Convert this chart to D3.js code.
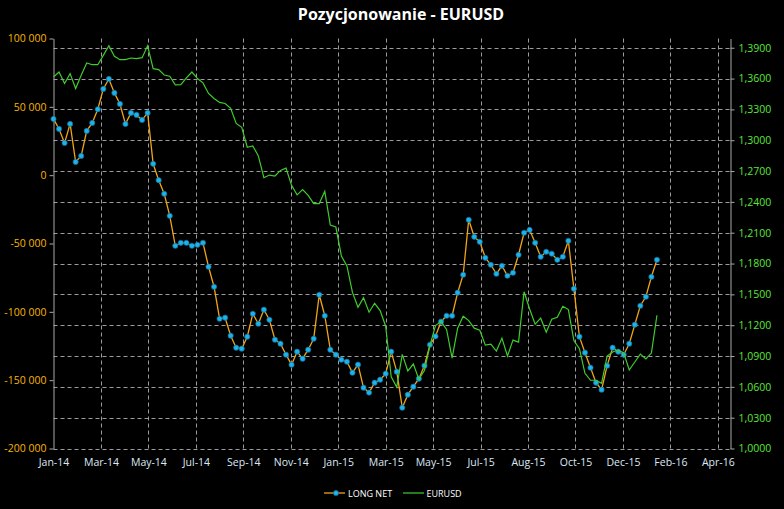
<!DOCTYPE html>
<html>
<head>
<meta charset="utf-8">
<script src="https://cdn.jsdelivr.net/npm/d3@7"></script>
<style>
  body { margin: 0; background: #000; }
  svg { display: block; }
  text { font-family: "Open Sans", "Noto Sans", sans-serif; }
</style>
</head>
<body>
<svg id="chart" width="784" height="509"></svg>
<script>
/* weekly COT report dates (Tuesdays) */
var weekDates = [
  "2014-01-07","2014-01-14","2014-01-21","2014-01-28","2014-02-04","2014-02-11","2014-02-18","2014-02-25",
  "2014-03-04","2014-03-11","2014-03-18","2014-03-25","2014-04-01","2014-04-08","2014-04-15","2014-04-22",
  "2014-04-29","2014-05-06","2014-05-13","2014-05-20","2014-05-27","2014-06-03","2014-06-10","2014-06-17",
  "2014-06-24","2014-07-01","2014-07-08","2014-07-15","2014-07-22","2014-07-29","2014-08-05","2014-08-12",
  "2014-08-19","2014-08-26","2014-09-02","2014-09-09","2014-09-16","2014-09-23","2014-09-30","2014-10-07",
  "2014-10-14","2014-10-21","2014-10-28","2014-11-04","2014-11-11","2014-11-18","2014-11-25","2014-12-02",
  "2014-12-09","2014-12-16","2014-12-23","2014-12-30","2015-01-06","2015-01-13","2015-01-20","2015-01-27",
  "2015-02-03","2015-02-10","2015-02-17","2015-02-24","2015-03-03","2015-03-10","2015-03-17","2015-03-24",
  "2015-03-31","2015-04-07","2015-04-14","2015-04-21","2015-04-28","2015-05-05","2015-05-12","2015-05-19",
  "2015-05-26","2015-06-02","2015-06-09","2015-06-16","2015-06-23","2015-06-30","2015-07-07","2015-07-14",
  "2015-07-21","2015-07-28","2015-08-04","2015-08-11","2015-08-18","2015-08-25","2015-09-01","2015-09-08",
  "2015-09-15","2015-09-22","2015-09-29","2015-10-06","2015-10-13","2015-10-20","2015-10-27","2015-11-03",
  "2015-11-10","2015-11-17","2015-11-24","2015-12-01","2015-12-08","2015-12-15","2015-12-22","2015-12-29",
  "2016-01-05","2016-01-12","2016-01-19","2016-01-26","2016-02-02","2016-02-09"
];

var longNet = [
  41150, 33850, 23600, 37500, 9700, 14100, 32400, 38250, 48250, 63100, 70400, 60200,
  52100, 37500, 45550, 44100, 40450, 45550, 8300, -3650, -13650, -29750, -51650, -49500,
  -49500, -51650, -50950, -49500, -67000, -81650, -105050, -104300, -117450, -126250, -126950, -118200,
  -101400, -108700, -98450, -105800, -120400, -123300, -131350, -138650, -129150, -134300, -127700, -119650,
  -87500, -102850, -127700, -131350, -135000, -136500, -144500, -138650, -155500, -159100, -151850, -149650,
  -145250, -129150, -143800, -170100, -160600, -154750, -148900, -139400, -124100, -117900, -107200, -102850,
  -102850, -86000, -72850, -32650, -45100, -48750, -60450, -65550, -72150, -66300, -73600, -71400,
  -58250, -42150, -40000, -49500, -59700, -56050, -57500, -61900, -59700, -48000, -83100, -118200,
  -129900, -140850, -151850, -156950, -139400, -126250, -129150, -131350, -123300, -109400, -95550, -88950,
  -74350, -61900
];

var eurusd = [
  1.3616, 1.3664, 1.3552, 1.3648, 1.3503, 1.3632, 1.3752, 1.3735, 1.3735, 1.3826, 1.3919, 1.3816,
  1.3784, 1.3784, 1.3800, 1.3794, 1.3803, 1.3919, 1.3697, 1.3687, 1.3635, 1.3623, 1.3539, 1.3540,
  1.3606, 1.3664, 1.3600, 1.3558, 1.3455, 1.3406, 1.3368, 1.3358, 1.3310, 1.3164, 1.3126, 1.2932,
  1.2945, 1.2848, 1.2635, 1.2661, 1.2652, 1.2706, 1.2729, 1.2561, 1.2468, 1.2520, 1.2464, 1.2384,
  1.2384, 1.2503, 1.2174, 1.2155, 1.1874, 1.1777, 1.1519, 1.1374, 1.1468, 1.1326, 1.1413, 1.1342,
  1.1190, 1.0697, 1.0597, 1.0916, 1.0755, 1.0822, 1.0674, 1.0758, 1.1003, 1.1197, 1.1235, 1.1158,
  1.0880, 1.1171, 1.1287, 1.1245, 1.1171, 1.1151, 1.1006, 1.1016, 1.0948, 1.1074, 1.0900, 1.1055,
  1.1035, 1.1526, 1.1358, 1.1210, 1.1268, 1.1132, 1.1258, 1.1277, 1.1384, 1.1352, 1.1051, 1.0971,
  1.0732, 1.0664, 1.0664, 1.0635, 1.0900, 1.0939, 1.0958, 1.0929, 1.0764, 1.0842, 1.0919, 1.0871,
  1.0929, 1.1297
];

/* axis ticks: the date axis steps 60 days from the first report */
var xTickDates = ["2014-01-07","2014-03-08","2014-05-07","2014-07-06","2014-09-04","2014-11-03",
  "2015-01-02","2015-03-03","2015-05-02","2015-07-01","2015-08-30","2015-10-29","2015-12-28",
  "2016-02-26","2016-04-26"];
var leftTicks = [-200000, -150000, -100000, -50000, 0, 50000, 100000];
var rightTicks = [1.00, 1.03, 1.06, 1.09, 1.12, 1.15, 1.18, 1.21, 1.24, 1.27, 1.30, 1.33, 1.36, 1.39];
var seriesNames = ["LONG NET", "EURUSD"];
var chartTitle = "Pozycjonowanie - EURUSD";

var parse = d3.timeParse("%Y-%m-%d");
var locale = d3.formatLocale({decimal: ",", thousands: " ", grouping: [3], currency: ["", ""], minus: "-"});
var fmtLeft = locale.format(",d");
var fmtRight = locale.format(".4f");

var data = weekDates.map(function(d, i) {
  return {date: parse(d), net: longNet[i], eur: eurusd[i]};
});

var svg = d3.select("#chart");
svg.append("rect").attr("width", 784).attr("height", 509).attr("fill", "#000");

var x = d3.scaleTime().domain([parse("2014-01-07"), parse("2016-05-12")]).range([53.5, 730.5]);
var yL = d3.scaleLinear().domain([-200000, 100000]).range([448.5, 38.5]);
var yR = d3.scaleLinear().domain([1.0, 1.399]).range([448.5, 38.5]);

var gridColor = "#9c9c9c";

// horizontal gridlines follow the right axis
svg.append("g").selectAll("line").data(rightTicks).enter().append("line")
  .attr("x1", 53.5).attr("x2", 730.5)
  .attr("y1", function(d) { return Math.round(yR(d)) + 0.5; })
  .attr("y2", function(d) { return Math.round(yR(d)) + 0.5; })
  .attr("stroke", gridColor).attr("stroke-width", 1).attr("stroke-dasharray", "4,3");

// vertical gridlines
svg.append("g").selectAll("line").data(xTickDates.slice(1)).enter().append("line")
  .attr("x1", function(d) { return Math.round(x(parse(d))) + 0.5; })
  .attr("x2", function(d) { return Math.round(x(parse(d))) + 0.5; })
  .attr("y1", 38.5).attr("y2", 448.5)
  .attr("stroke", gridColor).attr("stroke-width", 1).attr("stroke-dasharray", "4,3");

// left axis
var gl = svg.append("g").attr("transform", "translate(53.5,0)")
  .call(d3.axisLeft(yL).tickValues(leftTicks).tickSize(4).tickSizeOuter(0).tickPadding(3).tickFormat(fmtLeft));
gl.selectAll("path, line").attr("stroke", "#a8a8a8");
gl.selectAll("text").attr("fill", "#F7B500").style("font-size", "10.5px").style("font-family", "'Open Sans', sans-serif");

// right axis
var gr = svg.append("g").attr("transform", "translate(730.5,0)")
  .call(d3.axisRight(yR).tickValues(rightTicks).tickSize(4).tickSizeOuter(0).tickPadding(4).tickFormat(fmtRight));
gr.selectAll("path, line").attr("stroke", "#a8a8a8");
gr.selectAll("text").attr("fill", "#5BE63A").style("font-size", "10.5px").style("font-family", "'Open Sans', sans-serif");

// bottom axis (labels only, the 1,0000 gridline is the baseline)
var gb = svg.append("g").attr("transform", "translate(0,448.5)")
  .call(d3.axisBottom(x).tickValues(xTickDates.map(parse)).tickSize(0).tickPadding(10)
    .tickFormat(d3.timeFormat("%b-%y")));
gb.select(".domain").remove();
gb.selectAll("text").attr("fill", "#DDE8F6").style("font-size", "10.5px").style("font-family", "'Open Sans', sans-serif");

// LONG NET
var lineNet = d3.line().x(function(d) { return x(d.date); }).y(function(d) { return yL(d.net); });
svg.append("path").datum(data).attr("d", lineNet)
  .attr("fill", "none").attr("stroke", "#F0A418").attr("stroke-width", 1.3);
svg.append("g").selectAll("circle").data(data).enter().append("circle")
  .attr("cx", function(d) { return x(d.date); })
  .attr("cy", function(d) { return yL(d.net); })
  .attr("r", 2.6)
  .attr("fill", "#1EB2EA").attr("stroke", "#0D6E9C").attr("stroke-width", 0.7);

// EURUSD on the secondary axis
var lineEur = d3.line().x(function(d) { return x(d.date); }).y(function(d) { return yR(d.eur); });
svg.append("path").datum(data).attr("d", lineEur)
  .attr("fill", "none").attr("stroke", "#3FCC2C").attr("stroke-width", 1.2);

// title
svg.append("text").attr("x", 401).attr("y", 20).attr("text-anchor", "middle")
  .attr("fill", "#fff").style("font-size", "16px").style("font-weight", "bold")
  .text(chartTitle);

// legend
var leg = svg.append("g");
leg.append("line").attr("x1", 324).attr("x2", 345).attr("y1", 493).attr("y2", 493)
  .attr("stroke", "#F0A418").attr("stroke-width", 1.3);
leg.append("circle").attr("cx", 336).attr("cy", 493).attr("r", 2.6)
  .attr("fill", "#1EB2EA").attr("stroke", "#0D6E9C").attr("stroke-width", 0.7);
leg.append("text").attr("x", 348).attr("y", 496.5).attr("fill", "#fff").style("font-size", "9px").text(seriesNames[0]);
leg.append("line").attr("x1", 403).attr("x2", 424).attr("y1", 493).attr("y2", 493)
  .attr("stroke", "#3FCC2C").attr("stroke-width", 1.2);
leg.append("text").attr("x", 426.5).attr("y", 496.5).attr("fill", "#fff").style("font-size", "9px").text(seriesNames[1]);
</script>
</body>
</html>
